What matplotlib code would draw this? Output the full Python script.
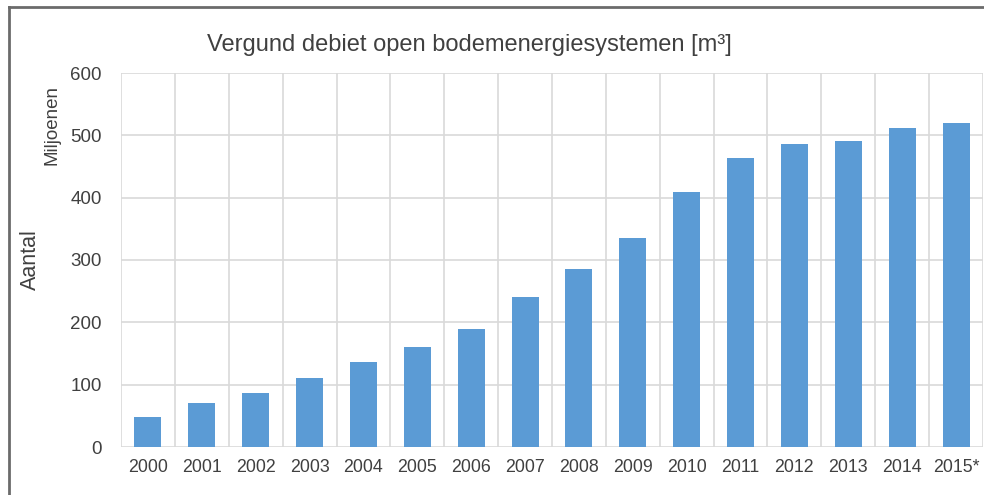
import numpy as np
import matplotlib.pyplot as plt
from matplotlib.lines import Line2D

# data (miljoenen m3)
years = ['2000', '2001', '2002', '2003', '2004', '2005', '2006', '2007',
         '2008', '2009', '2010', '2011', '2012', '2013', '2014', '2015*']
debiet = [48, 70, 87, 111, 136, 160, 190, 240,
          286, 335, 409, 464, 486, 491, 512, 520]
yticks = [0, 100, 200, 300, 400, 500, 600]

plt.rcParams['font.family'] = ['Liberation Sans', 'DejaVu Sans']

fig = plt.figure(figsize=(9.84, 4.95), dpi=100)
ax = fig.add_axes([121 / 984, 1 - 447 / 495, (983 - 121) / 984, (447 - 73) / 495])

x = np.arange(len(years))
ax.bar(x, debiet, width=0.5, color='#5b9bd5', zorder=3)

ax.set_xlim(-0.5, len(years) - 0.5)
ax.set_ylim(0, 600)
ax.set_yticks(yticks)
ax.set_xticks(x)
ax.set_xticklabels(years)
ax.set_xticks(np.arange(-0.5, len(years), 1), minor=True)

# gridlines in excel style
ax.grid(axis='y', color='#d9d9d9', linewidth=1.2, zorder=0)
ax.grid(axis='x', which='minor', color='#d9d9d9', linewidth=1.2, zorder=0)
ax.grid(axis='x', which='major', visible=False)
for s in ax.spines.values():
    s.set_visible(False)
ax.tick_params(which='both', length=0)
ax.tick_params(axis='x', pad=9, labelsize=12.8, labelcolor='#404040')
ax.tick_params(axis='y', pad=14, labelsize=13.5, labelcolor='#404040')

fig.text(469 / 984, 1 - 45 / 495, 'Vergund debiet open bodemenergiesystemen [m³]',
         ha='center', va='center', fontsize=17, color='#404040')
fig.text(30 / 984, 1 - 260 / 495, 'Aantal', rotation=90, ha='center', va='center',
         fontsize=15.5, color='#404040')
fig.text(52 / 984, 1 - 125 / 495, 'Miljoenen', rotation=90, ha='center', va='center',
         fontsize=13.5, color='#404040')

# outer frame, only top and left are visible in the crop
fig.add_artist(Line2D([9 / 984, 1], [1 - 7 / 495, 1 - 7 / 495],
                      transform=fig.transFigure, color='#6b6b6b', linewidth=2))
fig.add_artist(Line2D([9 / 984, 9 / 984], [0, 1 - 7 / 495],
                      transform=fig.transFigure, color='#6b6b6b', linewidth=2))

fig.savefig('out.png', dpi=100)
